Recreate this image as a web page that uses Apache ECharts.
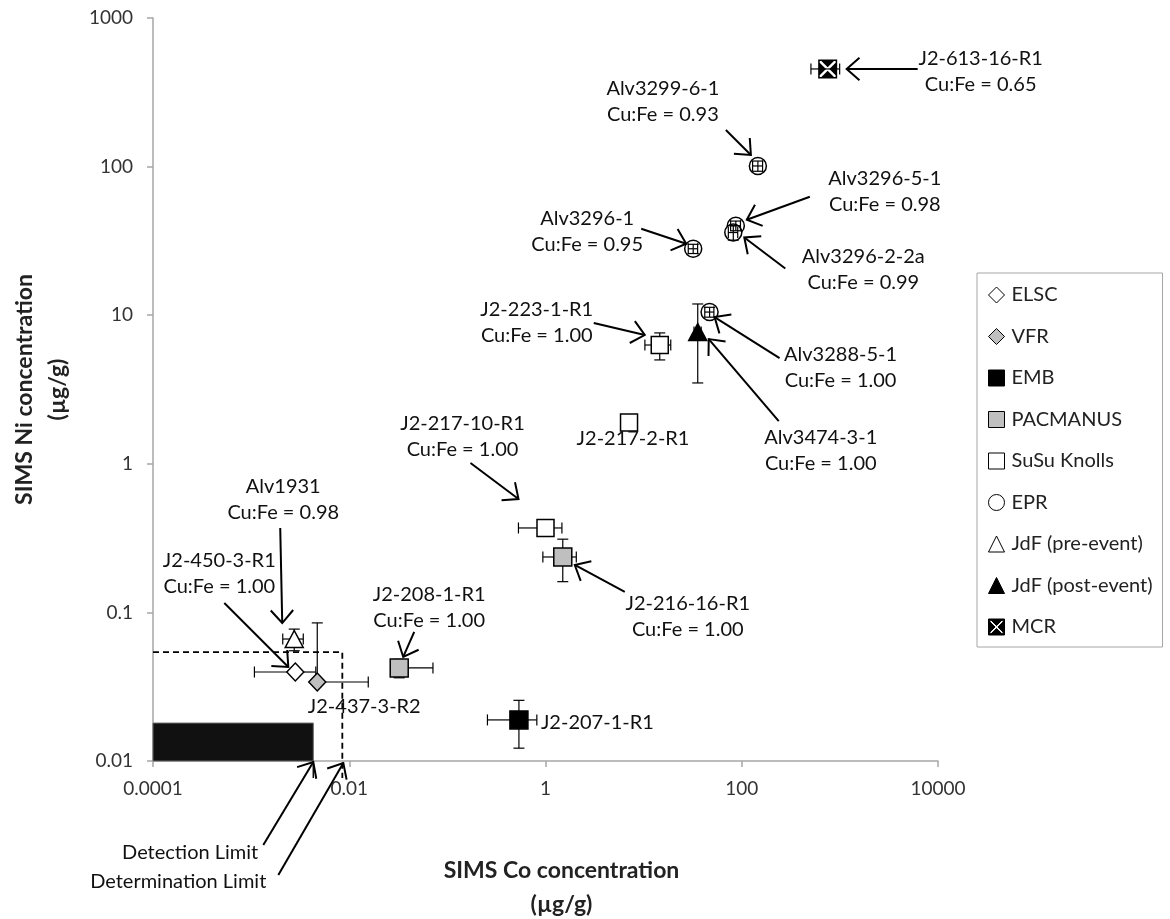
<!DOCTYPE html>
<html><head><meta charset="utf-8">
<script src="https://cdn.jsdelivr.net/npm/echarts@6/dist/echarts.min.js"></script>
<style>html,body{margin:0;padding:0;background:#fff}#c{width:1170px;height:919px}</style>
</head><body><div id="c"></div>
<script>
// ---------------- data ----------------
const sampleNames = ['J2-613-16-R1','Alv3299-6-1','Alv3296-5-1','Alv3296-2-2a','Alv3296-1','Alv3288-5-1','Alv3474-3-1','J2-223-1-R1','J2-217-2-R1','J2-217-10-R1','J2-216-16-R1','J2-208-1-R1','J2-207-1-R1','J2-437-3-R2','J2-450-3-R1','Alv1931'];
const sampleGroups = ['MCR','EPR','EPR','EPR','EPR','EPR','JdF (post-event)','SuSu Knolls','SuSu Knolls','SuSu Knolls','PACMANUS','PACMANUS','EMB','VFR','ELSC','JdF (pre-event)'];
const cuFeRatios = ['0.65','0.93','0.98','0.99','0.95','1.00','1.00','1.00',null,'1.00','1.00','1.00',null,null,'1.00','0.98'];
const coValues = [751, 146, 87, 82, 32, 47, 35.6, 14.6, 7.1, 1.0, 1.5, 0.0323, 0.536, 0.00472, 0.00282, 0.00275];
const niValues = [454, 101, 40, 36, 28, 10.5, 7.7, 6.3, 1.9, 0.37, 0.236, 0.0423, 0.0189, 0.034, 0.0397, 0.0662];
const coErrLow  = [244, 17, 10, 9, 3.5, 5, 3, 4.3, 0, 0.47, 0.56, 0, 0.28, 0, 0.00174, 0.00065];
const coErrHigh = [244, 17, 10, 9, 3.5, 5, 3, 4.3, 0, 0.47, 0.56, 0.039, 0.28, 0.0109, 0.00174, 0.00065];
const niErrLow  = [0, 8, 3, 4, 2, 0.8, 4.2, 1.3, 0, 0, 0.075, 0.006, 0.0067, 0, 0, 0.011];
const niErrHigh = [0, 8, 3, 4, 2, 0.8, 4.2, 1.3, 0, 0, 0.075, 0.006, 0.0067, 0.051, 0, 0.011];
const groupNames = ['ELSC','VFR','EMB','PACMANUS','SuSu Knolls','EPR','JdF (pre-event)','JdF (post-event)','MCR'];
const xTickValues = [0.0001, 0.01, 1, 100, 10000];
const yTickValues = [0.01, 0.1, 1, 10, 100, 1000];
const detectionLimit = [0.0043, 0.018];      // [Co, Ni]
const determinationLimit = [0.0085, 0.054];  // [Co, Ni]
const limitLabels = ['Detection Limit', 'Determination Limit'];

// ---------------- styles / layout ----------------
const FONT = 'Lato';
const mcrPath = 'path://M0,0H20V20H0Z M1.6,1.6V18.4H18.4V1.6Z M3.4,1.6L16.6,1.6L10,8.2Z M18.4,3.4L18.4,16.6L11.8,10Z M16.6,18.4L3.4,18.4L10,11.8Z M1.6,16.6L1.6,3.4L8.2,10Z';
const groupStyle = {
  'ELSC': {symbol:'diamond', size:[17,18], color:'#ffffff'},
  'VFR': {symbol:'diamond', size:[17,18], color:'#bfbfbf'},
  'EMB': {symbol:'rect', size:18, color:'#000000'},
  'PACMANUS': {symbol:'rect', size:18, color:'#bfbfbf'},
  'SuSu Knolls': {symbol:'rect', size:17, color:'#ffffff'},
  'EPR': {symbol:'circle', size:17, color:'#ffffff'},
  'JdF (pre-event)': {symbol:'triangle', size:[18,17], color:'#ffffff'},
  'JdF (post-event)': {symbol:'triangle', size:[18,17], color:'#000000'},
  'MCR': {symbol:mcrPath, size:19, color:'#000000', border:0}
};
// annotation layout: pixel offsets from the anchored point
const annotationLayout = {
  'J2-613-16-R1': {label:[153,3], tail:[90,0], tip:[19,0]},
  'Alv3299-6-1': {label:[-95,-64], tail:[-32,-36], tip:[-7,-11]},
  'Alv3296-5-1': {label:[149,-34], tail:[74,-29], tip:[11,-6]},
  'Alv3296-2-2a': {label:[130,37], tail:[52,36], tip:[11,5]},
  'Alv3296-1': {label:[-106,-17], tail:[-52,-20], tip:[-7,-5]},
  'Alv3288-5-1': {label:[131,55], tail:[70,46], tip:[5,5]},
  'Alv3474-3-1': {label:[123,118], tail:[81,89], tip:[11,7]},
  'J2-223-1-R1': {label:[-123,-22], tail:[-66,-22], tip:[-15,-10]},
  'J2-217-2-R1': {label:[4,16]},
  'J2-217-10-R1': {label:[-83,-91], tail:[-75,-65], tip:[-27,-29]},
  'J2-216-16-R1': {label:[125,60], tail:[62,35], tip:[12,8]},
  'J2-208-1-R1': {label:[30,-60], tail:[15,-36], tip:[4,-11]},
  'J2-207-1-R1': {label:[22,3], align:'left'},
  'J2-437-3-R2': {label:[47,25]},
  'J2-450-3-R1': {label:[-76,-98], tail:[-71,-69], tip:[-7,-5]},
  'Alv1931': {label:[-11,-139], tail:[-14,-111], tip:[-12,-16]},
  'Detection Limit': {label:[-55,92], align:'right', tail:[-50,84], tip:[0,1]},
  'Determination Limit': {label:[-76,121], align:'right', tail:[-64,114], tip:[1,2]}
};

function fmtLog(v){
  const e = Math.round(Math.log10(v));
  return e >= 0 ? String(Math.pow(10, e)) : '0.' + '0'.repeat(-e - 1) + '1';
}

// annotations list built from data
const annotations = [];
sampleNames.forEach((n, i) => {
  annotations.push({key:n, anchor:[coValues[i], niValues[i]], text: cuFeRatios[i] ? n + '\nCu:Fe = ' + cuFeRatios[i] : n});
});
annotations.push({key:limitLabels[0], anchor:[detectionLimit[0], yTickValues[0]], text:limitLabels[0]});
annotations.push({key:limitLabels[1], anchor:[determinationLimit[0], yTickValues[0]], text:limitLabels[1]});

function errItems(params, api){
  const i = api.value(2);
  const x = coValues[i], y = niValues[i];
  const c = api.coord([x, y]);
  const ch = [];
  const st = {stroke:'#000', lineWidth:1.2};
  const cap = 5.5;
  function seg(p, horizCap){
    ch.push({type:'line', shape:{x1:c[0], y1:c[1], x2:p[0], y2:p[1]}, style:st});
    if (horizCap) ch.push({type:'line', shape:{x1:p[0]-cap, y1:p[1], x2:p[0]+cap, y2:p[1]}, style:st});
    else ch.push({type:'line', shape:{x1:p[0], y1:p[1]-cap, x2:p[0], y2:p[1]+cap}, style:st});
  }
  if (coErrHigh[i]) seg(api.coord([x + coErrHigh[i], y]), false);
  if (coErrLow[i] && x - coErrLow[i] > 0) seg(api.coord([x - coErrLow[i], y]), false);
  if (niErrHigh[i]) seg(api.coord([x, y + niErrHigh[i]]), true);
  if (niErrLow[i] && y - niErrLow[i] > 0) seg(api.coord([x, y - niErrLow[i]]), true);
  return {type:'group', children:ch};
}

function annItem(params, api){
  const a = annotations[api.value(2)];
  const L = annotationLayout[a.key];
  const c = api.coord(a.anchor);
  const ch = [];
  ch.push({type:'text', style:{text:a.text, x:c[0]+L.label[0], y:c[1]+L.label[1], align:L.align || 'center', verticalAlign:'middle', lineHeight:26, fontSize:20, fontFamily:FONT, fill:'#111'}});
  if (L.tail){
    const t = [c[0]+L.tail[0], c[1]+L.tail[1]], p = [c[0]+L.tip[0], c[1]+L.tip[1]];
    const st = {stroke:'#000', lineWidth:2, fill:null};
    ch.push({type:'line', shape:{x1:t[0], y1:t[1], x2:p[0], y2:p[1]}, style:st});
    const ang = Math.atan2(p[1]-t[1], p[0]-t[0]), hl = 17, phi = 0.72;
    ch.push({type:'polyline', shape:{points:[
      [p[0]-hl*Math.cos(ang-phi), p[1]-hl*Math.sin(ang-phi)], p,
      [p[0]-hl*Math.cos(ang+phi), p[1]-hl*Math.sin(ang+phi)]]}, style:st});
  }
  return {type:'group', children:ch};
}

function limitItems(params, api){
  const xMin = xTickValues[0], yMin = yTickValues[0];
  const r1 = api.coord([xMin, detectionLimit[1]]), r2 = api.coord([detectionLimit[0], yMin]);
  const d1 = api.coord([xMin, determinationLimit[1]]), d2 = api.coord([determinationLimit[0], determinationLimit[1]]), d3 = api.coord([determinationLimit[0], yMin]);
  const ext = 17;
  return {type:'group', children:[
    {type:'rect', shape:{x:r1[0], y:r1[1], width:r2[0]-r1[0], height:r2[1]-r1[1]}, style:{fill:'#111', stroke:'#666', lineWidth:1}},
    {type:'line', shape:{x1:r2[0], y1:r2[1], x2:r2[0], y2:r2[1]+ext}, style:{stroke:'#111', lineWidth:1.5}},
    {type:'polyline', shape:{points:[d1, d2, [d3[0], d3[1]+ext]]}, style:{stroke:'#000', lineWidth:1.8, lineDash:[6,4], fill:null}}
  ]};
}

const series = [];
series.push({type:'custom', name:'limits', renderItem:limitItems, data:[[xTickValues[0], yTickValues[0], 0]], encode:{x:0,y:1}, clip:false, z:1, silent:true});
const idxAll = sampleNames.map((n,i)=>i);
series.push({type:'custom', name:'errBelow', renderItem:errItems, data:idxAll.filter(i=>sampleGroups[i]!=='EPR').map(i=>[coValues[i], niValues[i], i]), encode:{x:0,y:1}, clip:false, z:2, silent:true});
groupNames.forEach(g => {
  const s = groupStyle[g];
  series.push({type:'scatter', name:g, symbol:s.symbol, symbolSize:s.size, z:3,
    itemStyle:{color:s.color, borderColor:'#000', borderWidth: s.border === 0 ? 0 : 1.5, opacity:1},
    data: idxAll.filter(i=>sampleGroups[i]===g).map(i=>[coValues[i], niValues[i]])});
});
series.push({type:'custom', name:'errAbove', renderItem:errItems, data:idxAll.filter(i=>sampleGroups[i]==='EPR').map(i=>[coValues[i], niValues[i], i]), encode:{x:0,y:1}, clip:false, z:4, silent:true});
series.push({type:'custom', name:'annotations', renderItem:annItem, data:annotations.map((a,k)=>[a.anchor[0], a.anchor[1], k]), encode:{x:0,y:1}, clip:false, z:5, silent:true});

const axisCol = '#a6a6a6';
const option = {
  animation:false,
  backgroundColor:'#ffffff',
  grid:{left:153, top:18, right:232, bottom:158, containLabel:false, outerBoundsMode:'none'},
  legend:{
    orient:'vertical', left:977, top:273,
    data: groupNames.map(g => ({name:g, icon: groupStyle[g].symbol === mcrPath ? mcrPath : undefined})),
    itemWidth:16, itemHeight:16, itemGap:21.5,
    itemStyle:{borderWidth:1},
    textStyle:{fontSize:20, fontFamily:FONT, color:'#222', lineHeight:20, padding:[0,0,0,2]},
    borderColor:'#a6a6a6', borderWidth:1, padding:[12,10,10,11], backgroundColor:'#fff',
    selectedMode:false
  },
  xAxis:{
    type:'log', logBase:10, min:xTickValues[0], max:xTickValues[xTickValues.length-1],
    splitLine:{show:false},
    axisLine:{show:true, onZero:false, lineStyle:{color:axisCol, width:1.5}},
    axisTick:{show:true, length:6, lineStyle:{color:axisCol, width:1.5}, customValues:xTickValues},
    axisLabel:{customValues:xTickValues, formatter:fmtLog, fontSize:19, fontFamily:FONT, color:'#333', margin:18},
    minorTick:{show:false},
    name:'SIMS Co concentration\n(µg/g)', nameLocation:'middle', nameGap:93,
    nameTextStyle:{fontWeight:'bold', fontSize:23, fontFamily:FONT, color:'#222', lineHeight:34, padding:[0,0,0,32]}
  },
  yAxis:{
    type:'log', logBase:10, min:yTickValues[0], max:yTickValues[yTickValues.length-1],
    splitLine:{show:false},
    axisLine:{show:true, onZero:false, lineStyle:{color:axisCol, width:1.5}},
    axisTick:{show:true, length:6, lineStyle:{color:axisCol, width:1.5}, customValues:yTickValues},
    axisLabel:{customValues:yTickValues, formatter:fmtLog, fontSize:19, fontFamily:FONT, color:'#333', margin:20},
    minorTick:{show:false},
    name:'SIMS Ni concentration\n(µg/g)', nameLocation:'middle', nameGap:79,
    nameTextStyle:{fontWeight:'bold', fontSize:23, fontFamily:FONT, color:'#222', lineHeight:33}
  },
  series
};
const chart = echarts.init(document.getElementById('c'), null, {renderer:'canvas'});
chart.setOption(option);
</script></body></html>
